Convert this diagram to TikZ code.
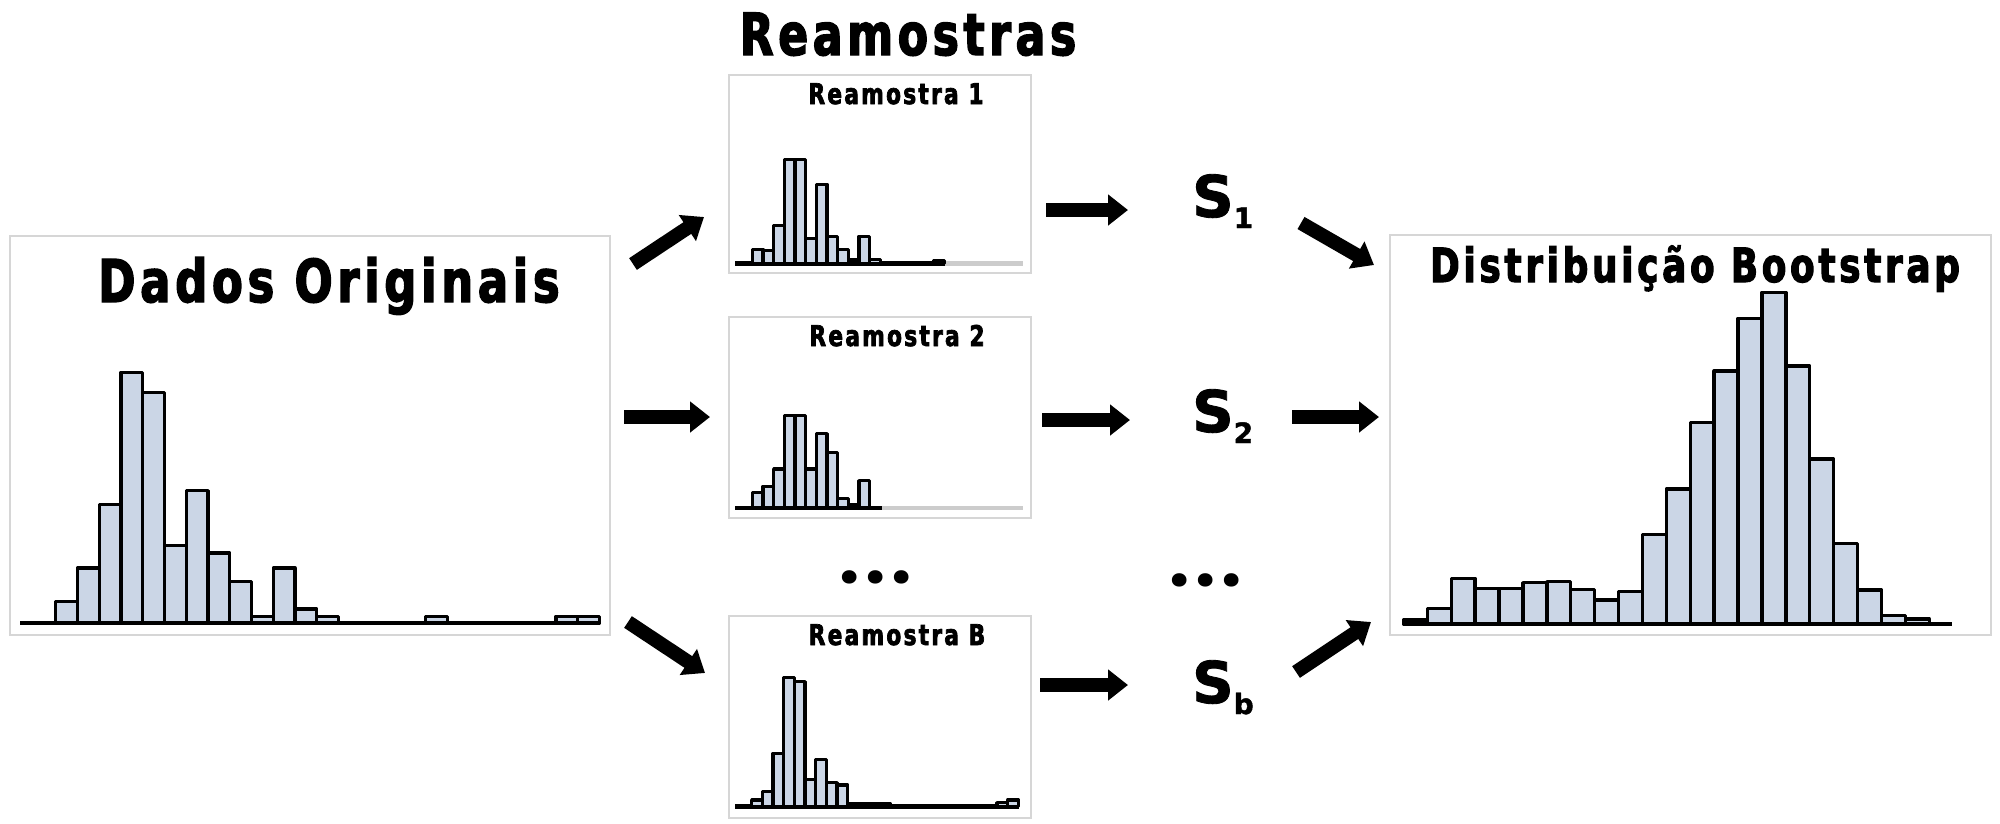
\documentclass[tikz,border=0pt]{standalone}
\usepackage{fontspec}
\usetikzlibrary{arrows.meta}
\newfontfamily\titlefont{DejaVu Sans}[UprightFont=* Bold, FakeStretch=0.76, FakeBold=2.5, LetterSpace=8]
\newfontfamily\statfont{DejaVu Sans}[UprightFont=* Bold, FakeBold=1.5]
\newfontfamily\dotfont{Poppins}[UprightFont=* Bold, LetterSpace=8]
\definecolor{barblue}{RGB}{203,214,230}
\definecolor{panelgray}{RGB}{214,214,214}
\definecolor{axisgray}{RGB}{204,204,204}
\newcommand{\stat}[1]{S\raisebox{-11pt}{\fontsize{28}{28}\selectfont #1}}
\tikzset{
  panel/.style={draw=panelgray, line width=2.5pt, inner sep=0pt},
  bar/.style={draw=black, fill=barblue, line width=3.4pt, line join=round},
  axis/.style={line width=4.5pt},
  fatarrow/.style={line width=14pt, -{Triangle[length=20pt,width=30pt]}},
  bigtitle/.style={anchor=base, inner sep=0pt, font=\titlefont\fontsize{#1}{#1}\selectfont},
}
\begin{document}
\begin{tikzpicture}[x=1pt,y=-1pt]
  \useasboundingbox (0,0) rectangle (2000,823);
  % panels
  \node[panel, minimum width=600pt, minimum height=399pt] (orig) at (310,435.5) {};
  \node[panel, minimum width=302pt, minimum height=198pt] (res1) at (880,174) {};
  \node[panel, minimum width=302pt, minimum height=201pt] (res2) at (880,417.5) {};
  \node[panel, minimum width=302pt, minimum height=202pt] (resB) at (880,717) {};
  \node[panel, minimum width=601pt, minimum height=400pt] (boot) at (1690.5,435) {};
  % titles
  \node[bigtitle=59] (origtitle) at (329,302) {Dados Originais};
  \node[bigtitle=58] (restitle) at (908,55) {Reamostras};
  \node[bigtitle=47] (boottitle) at (1695,282) {Distribuição Bootstrap};
  \node[bigtitle=28.5] (res1title) at (896,104) {Reamostra 1};
  \node[bigtitle=28.5] (res2title) at (897,346) {Reamostra 2};
  \node[bigtitle=28.5] (resBtitle) at (897,645) {Reamostra B};

  % dados originais
  \draw[axis] (20,623) -- (600,623);
  \foreach \i/\h in {0/21.7, 1/55, 2/118.3, 3/250.7, 4/230.7, 5/77.3, 6/132.3, 7/70,
                     8/41.7, 9/6.7, 10/55, 11/14, 12/6.7, 17/6.7, 23/6.7, 24/6.7}
    \draw[bar] (55.7+21.75*\i,623) rectangle ++(21.75,-\h);

  % reamostra 1
  \draw[axis, axisgray] (945,263.3) -- (1023,263.3);
  \draw[axis] (735,263.3) -- (945,263.3);
  \foreach \i/\h in {0/14, 1/12.7, 2/38, 3/104, 4/104, 5/25, 6/79, 7/27,
                     8/14, 9/3.3, 10/27, 11/4, 17/3}
    \draw[bar] (752.3+10.67*\i,263.3) rectangle ++(10.67,-\h);

  % reamostra 2
  \draw[axis, axisgray] (882,508) -- (1023,508);
  \draw[axis] (735,508) -- (882,508);
  \foreach \i/\h in {0/15.7, 1/21.7, 2/39, 3/92.3, 4/92.3, 5/39, 6/74.3, 7/55.7,
                     8/9.3, 9/3.3, 10/27.3}
    \draw[bar] (752.3+10.67*\i,508) rectangle ++(10.67,-\h);

  % reamostra B
  \draw[axis] (735,806.7) -- (1019,806.7);
  \foreach \i/\h in {0/6.7, 1/15, 2/53.3, 3/129.3, 4/125, 5/27.3, 6/47.3, 7/24,
                     8/21.7, 9/2.7, 10/2.7, 11/2.7, 12/2.7, 23/4, 24/6.7}
    \draw[bar] (751.7+10.67*\i,806.7) rectangle ++(10.67,-\h);

  % distribuicao bootstrap
  \draw[axis] (1403,624) -- (1952,624);
  \foreach \h [count=\i from 0] in {4, 15.7, 45.7, 35.7, 35.7, 41.3, 42.3, 34.7, 24, 32.3, 89.7,
                                    135, 201.3, 253, 305.7, 331.7, 258, 165, 80.7, 34, 8.3, 5}
    \draw[bar] (1403.4+23.9*\i,624) rectangle ++(23.9,-\h);

  % statistics
  \node[anchor=base west, inner sep=0pt, font=\statfont\fontsize{57.6}{60}\selectfont] (s1) at (1192,217) {\stat{1}};
  \node[anchor=base west, inner sep=0pt, font=\statfont\fontsize{57.6}{60}\selectfont] (s2) at (1192,432) {\stat{2}};
  \node[anchor=base west, inner sep=0pt, font=\statfont\fontsize{57.6}{60}\selectfont] (sb) at (1192,703) {\stat{b}};
  \node[font=\dotfont\fontsize{72}{72}\selectfont] (dots1) at (876,577) {...};
  \node[font=\dotfont\fontsize{72}{72}\selectfont] (dots2) at (1206,580) {...};

  % arrow ends
  \coordinate (o1) at (633,264);   \coordinate (r1in) at (704,217);
  \coordinate (o2) at (624,417);   \coordinate (r2in) at (710,417);
  \coordinate (o3) at (628,622);   \coordinate (rBin) at (705,673);
  \coordinate (r1out) at (1046,210); \coordinate (s1in) at (1128,210);
  \coordinate (r2out) at (1042,420); \coordinate (s2in) at (1130,420);
  \coordinate (rBout) at (1040,685); \coordinate (sbin) at (1128,685);
  \coordinate (s1out) at (1301,223); \coordinate (b1) at (1374,265);
  \coordinate (s2out) at (1292,417); \coordinate (b2) at (1379,417);
  \coordinate (sbout) at (1296,672); \coordinate (b3) at (1371,622);
  \draw[fatarrow] (o1) -- (r1in);
  \draw[fatarrow] (o2) -- (r2in);
  \draw[fatarrow] (o3) -- (rBin);
  \draw[fatarrow] (r1out) -- (s1in);
  \draw[fatarrow] (r2out) -- (s2in);
  \draw[fatarrow] (rBout) -- (sbin);
  \draw[fatarrow] (s1out) -- (b1);
  \draw[fatarrow] (s2out) -- (b2);
  \draw[fatarrow] (sbout) -- (b3);
\end{tikzpicture}
\end{document}
